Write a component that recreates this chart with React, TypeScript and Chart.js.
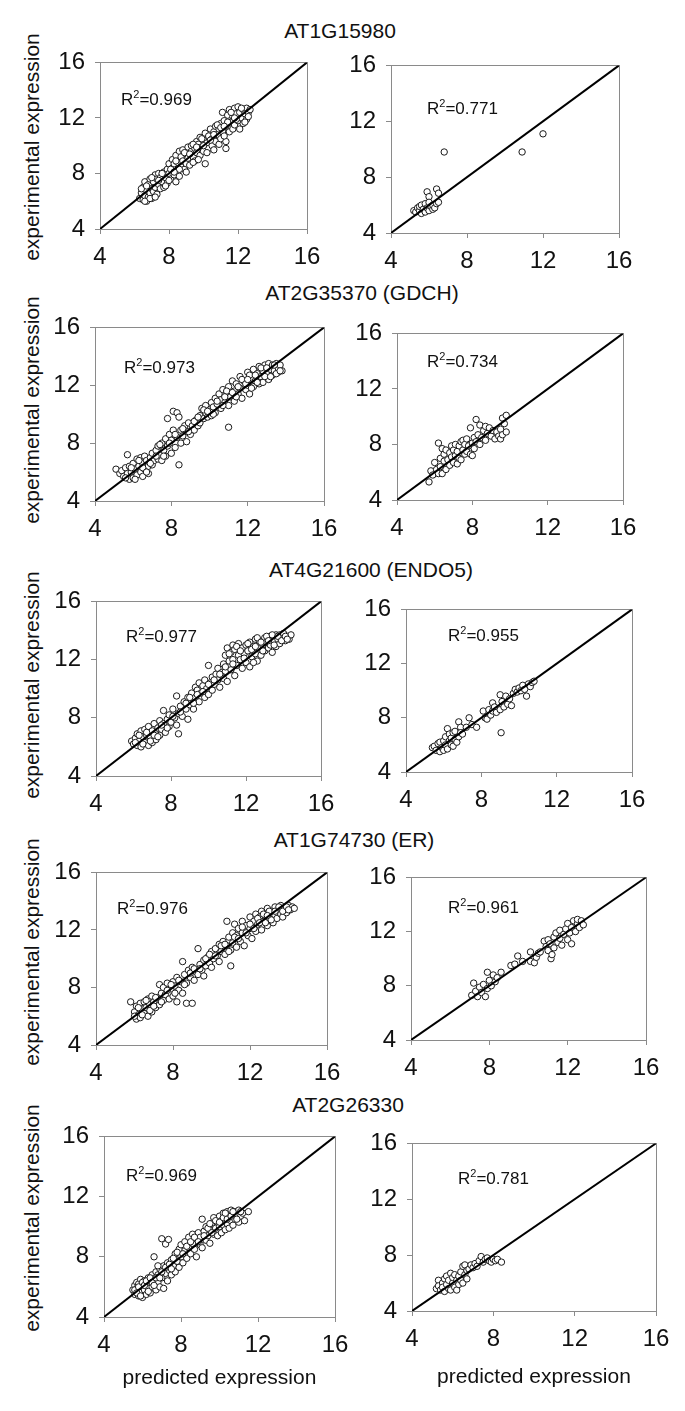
import React, { useEffect, useRef } from "react";
import { Chart, registerables } from "chart.js";

Chart.register(...registerables);

const FONT = "'Liberation Sans', Arial, Helvetica, sans-serif";

// ---------- data ----------
const axisTicks = [4, 8, 12, 16];
const geneTitles = [
  "AT1G15980",
  "AT2G35370 (GDCH)",
  "AT4G21600 (ENDO5)",
  "AT1G74730 (ER)",
  "AT2G26330",
];
const r2Values = ["0.969", "0.771", "0.973", "0.734", "0.977", "0.955", "0.976", "0.961", "0.969", "0.781"];
const yAxisTitle = "experimental expression";
const xAxisTitle = "predicted expression";
const diagonal = [4, 16];

type Pt = [number, number];

const pts1L: Pt[] = [
  [6.3,6.2],[6.4,6.6],[6.5,6.1],[6.5,7.0],[6.6,6.4],[6.6,7.4],[6.7,6.0],[6.7,6.8],[6.8,6.3],[6.8,7.2],[6.9,6.6],[6.9,7.6],[7.0,6.9],[7.0,6.2],[7.1,7.4],[7.1,6.7],[7.2,7.9],[7.2,7.0],[7.3,6.5],[7.3,7.6],[7.4,7.2],[7.4,8.0],
  [7.5,6.9],[7.5,7.7],[7.6,7.4],[7.7,8.1],[7.7,7.0],[7.8,7.7],[7.9,8.3],[7.9,7.3],[8.0,8.0],[8.0,8.7],[8.1,7.6],[8.2,8.4],[8.2,9.0],[8.3,7.9],[8.3,8.7],[8.4,7.4],[8.4,9.3],[8.5,8.1],[8.5,8.8],[8.6,9.6],[8.6,7.8],[8.7,8.5],[8.7,9.2],[8.8,8.9],[8.8,9.7],[8.9,8.3],[9.0,9.4],[9.0,8.7],[9.1,9.9],[9.1,9.1],
  [9.2,8.6],[9.3,9.6],[9.3,10.0],[9.4,9.2],[9.5,9.8],[9.5,8.9],[9.6,10.3],[9.6,9.5],[9.7,10.1],[9.8,9.3],[9.8,10.6],[9.9,9.9],[10.0,10.4],[10.0,9.6],[10.1,10.9],[10.1,8.7],[10.2,10.2],[10.3,10.7],[10.3,9.8],[10.4,11.2],[10.5,10.5],[10.5,10.0],[10.6,11.0],[10.7,10.3],[10.7,11.4],[10.8,10.8],[10.9,10.1],[10.9,11.2],[11.0,11.6],[11.0,10.5],
  [11.1,12.4],[11.1,11.0],[11.2,11.8],[11.3,10.3],[11.3,11.4],[11.4,12.2],[11.3,9.8],[11.5,11.0],[11.5,12.6],[11.6,11.7],[11.7,12.1],[11.7,11.2],[11.8,12.7],[11.8,11.5],[11.9,12.3],[12.0,11.8],[12.0,12.8],[12.1,11.2],[12.1,12.4],[12.2,12.0],[12.3,12.6],[12.3,11.6],[12.4,12.3],[12.5,12.7],[12.5,11.9],[12.6,12.4],[12.7,12.6],
  [6.4,6.9],[6.6,6.0],[6.9,6.2],[7.0,7.7],[7.2,6.3],[7.6,8.0],[7.8,7.1],[8.0,7.5],[8.1,8.3],[8.4,8.9],[8.6,8.3],[8.9,9.5],[9.0,8.1],[9.2,9.4],[9.4,10.1],[9.4,8.8],[9.7,9.0],[9.9,10.5],[10.2,9.5],[10.4,10.4],[10.6,9.7],[10.8,11.5],[11.0,11.3],[11.2,10.7],[11.4,11.7],[11.6,12.4],[11.9,11.9],[12.2,12.7],[12.4,11.7],[12.6,12.1],[11.8,12.0],[10.6,10.8],[9.6,9.9],[8.3,8.1],[7.4,7.5],[6.7,7.1],[10.0,10.0],[11.2,11.4],
];

const pts1R: Pt[] = [
  [5.2,5.6],[5.3,5.5],[5.4,5.8],[5.5,5.6],[5.5,5.9],[5.6,5.4],[5.6,6.0],[5.7,5.7],[5.8,5.5],[5.8,6.1],[5.9,5.8],[5.9,6.95],[6.0,5.6],[6.0,6.6],[6.0,6.2],[6.1,5.9],[6.2,5.7],[6.2,6.0],[6.3,5.8],[6.4,7.15],[6.4,6.1],[6.5,6.85],[6.5,6.2],[6.8,9.8],[10.9,9.8],[12.0,11.1],
];

const pts2L: Pt[] = [
  [5.1,6.2],[5.3,5.9],[5.4,6.1],[5.5,5.7],[5.6,6.3],[5.7,7.2],[5.7,5.9],[5.8,5.5],[5.8,6.4],[5.9,6.0],[6.0,5.6],[6.0,6.6],[6.1,6.2],[6.2,5.8],[6.2,6.9],[6.3,6.4],[6.4,6.0],[6.4,7.0],[6.5,5.7],[6.5,6.6],[6.6,6.2],[6.6,7.1],[6.7,6.8],[6.8,5.9],[6.8,6.4],[6.9,7.0],[7.0,6.5],[7.0,7.3],
  [7.1,6.8],[7.2,7.5],[7.3,6.9],[7.3,7.8],[7.4,7.2],[7.5,6.8],[7.5,8.0],[7.6,7.5],[7.7,8.3],[7.7,7.1],[7.8,9.7],[7.8,7.8],[7.9,8.6],[8.0,7.3],[8.0,8.2],[8.1,10.2],[8.1,8.9],[8.2,7.7],[8.3,8.4],[8.3,10.1],[8.4,9.8],[8.4,6.5],[8.5,8.0],[8.5,8.9],[8.6,8.5],[8.7,9.2],[8.8,8.1],[8.8,8.8],[8.9,9.4],[9.0,8.6],
  [9.1,9.2],[9.2,8.9],[9.3,9.6],[9.4,9.2],[9.5,9.9],[9.5,9.4],[9.6,10.4],[9.7,9.7],[9.8,10.1],[9.8,10.6],[9.9,9.8],[10.0,10.3],[10.1,10.8],[10.1,9.9],[10.2,10.5],[10.3,11.1],[10.3,10.1],[10.4,10.7],[10.5,11.4],[10.6,10.4],[10.6,11.0],[10.7,11.7],[10.8,10.8],[10.9,11.3],[11.0,9.1],[11.0,11.9],[11.0,10.6],
  [11.1,11.2],[11.2,12.3],[11.3,11.6],[11.3,10.9],[11.4,12.1],[11.5,11.4],[11.6,12.6],[11.6,11.8],[11.7,11.1],[11.8,12.3],[11.9,11.7],[12.0,12.9],[12.0,12.0],[12.1,11.4],[12.2,12.5],[12.3,13.1],[12.3,11.9],[12.4,12.3],[12.5,12.8],[12.6,12.1],[12.6,13.3],[12.7,12.6],[12.8,13.0],[12.8,12.2],[12.9,13.4],[13.0,12.8],[13.1,13.5],[13.1,12.4],[13.2,13.1],[13.3,13.4],[13.3,12.7],[13.4,13.0],[13.5,13.5],[13.6,12.9],[13.6,13.2],[13.7,13.4],[13.8,13.0],
  [5.6,5.6],[5.9,6.3],[6.1,5.5],[6.3,6.8],[6.5,6.3],[6.7,6.0],[6.9,6.6],[7.2,7.1],[7.4,7.9],[7.6,7.1],[7.9,8.0],[8.2,8.6],[8.6,9.0],[8.9,8.8],[9.2,9.5],[9.4,9.8],[9.7,10.3],[9.9,10.2],[10.2,10.0],[10.4,10.9],[10.7,10.6],[10.9,11.6],[11.2,11.5],[11.4,11.2],[11.7,12.4],[11.9,12.1],[12.1,12.7],[12.2,11.8],[12.4,12.7],[12.5,12.2],[12.7,13.2],[12.9,12.6],[13.0,13.2],[13.2,12.6],[13.4,13.4],[13.5,12.8],[13.7,13.0],[12.0,12.4],[11.5,11.9],[10.8,11.2],
];

const pts2R: Pt[] = [
  [5.7,5.3],[5.8,6.1],[5.9,5.8],[6.0,6.7],[6.1,6.2],[6.2,8.1],[6.2,5.9],[6.3,7.0],[6.3,6.4],[6.4,7.7],[6.4,5.9],[6.5,6.8],[6.5,7.3],[6.6,6.2],[6.6,7.6],[6.7,6.9],[6.8,7.4],[6.8,6.5],[6.9,7.9],[6.9,7.1],[7.0,6.7],[7.0,7.6],[7.1,7.2],[7.1,8.0],[7.2,6.6],[7.2,7.5],[7.3,7.9],[7.3,7.0],[7.4,8.2],[7.4,6.9],[7.5,7.6],[7.5,8.3],[7.6,7.3],[7.6,8.0],[7.7,8.4],[7.7,7.5],[7.8,7.9],[7.9,9.2],[7.9,7.3],[8.0,7.2],[8.0,8.1],[8.1,8.5],[8.1,7.7],[8.2,9.8],[8.2,8.2],[8.3,8.7],[8.4,9.4],[8.4,8.0],[8.5,8.5],[8.6,9.0],[8.7,9.3],[8.7,8.3],[8.8,8.8],[8.9,9.2],[9.0,8.6],[9.1,9.0],[9.2,8.4],[9.3,8.9],[9.4,8.6],[9.5,8.4],[9.5,9.1],[9.6,9.9],[9.6,8.7],[9.7,9.5],[9.8,8.9],[9.8,10.1],
];

const pts3L: Pt[] = [
  [5.9,6.4],[6.0,6.2],[6.1,6.6],[6.2,6.1],[6.2,6.9],[6.3,6.4],[6.4,7.1],[6.4,6.0],[6.5,6.7],[6.6,6.3],[6.6,7.2],[6.7,6.8],[6.8,6.1],[6.8,7.4],[6.9,6.6],[7.0,7.1],[7.0,6.3],[7.1,7.6],[7.2,6.9],[7.2,6.5],[7.3,7.3],[7.4,7.8],[7.4,6.8],[7.5,7.2],[7.6,7.6],[7.6,8.5],[7.7,7.0],[7.8,7.9],[7.9,7.4],[7.9,8.2],[8.0,7.7],[8.1,8.6],[8.2,8.0],[8.3,9.5],[8.3,7.5],[8.4,6.9],[8.4,8.3],[8.5,8.8],[8.6,8.1],[8.7,9.1],[8.8,8.6],[8.9,7.9],[8.9,9.4],[9.0,8.9],[9.1,9.7],[9.1,9.2],[9.2,8.6],[9.3,10.1],[9.3,9.4],[9.4,9.9],[9.5,9.1],[9.5,10.4],[9.6,9.7],[9.7,10.2],[9.8,9.4],[9.8,10.6],[9.9,10.0],[10.0,11.6],[10.0,9.6],[10.1,10.4],[10.2,10.8],[10.2,9.9],[10.3,10.3],[10.4,11.0],[10.5,10.6],[10.5,11.4],[10.6,10.1],[10.7,11.1],[10.8,10.7],[10.8,11.7],[10.9,12.3],[10.9,11.2],[11.0,12.8],[11.0,10.5],[11.1,11.9],[11.2,12.5],[11.2,11.3],[11.3,13.0],[11.3,12.0],[11.4,10.9],[11.4,12.7],[11.5,11.6],[11.6,12.3],[11.6,13.1],[11.7,12.0],[11.8,11.4],[11.8,12.8],[11.9,12.4],[12.0,13.0],[12.0,11.8],[12.1,12.6],[12.2,13.2],[12.2,11.5],[12.3,12.2],[12.4,12.9],[12.5,12.4],[12.5,13.4],[12.6,11.9],[12.7,12.8],[12.7,13.3],[12.8,12.3],[12.9,13.0],[13.0,13.5],[13.0,12.6],[13.1,13.2],[13.2,12.8],[13.3,13.6],[13.3,13.0],[13.4,12.5],[13.5,13.3],[13.6,13.7],[13.6,12.9],[13.7,13.4],[13.8,13.7],[13.8,13.1],[13.9,13.5],[14.0,13.8],[14.1,13.3],[14.2,13.6],[14.3,13.4],[14.4,13.7],
  [6.1,6.3],[6.3,6.8],[6.5,6.2],[6.7,7.0],[6.9,6.4],[7.1,6.8],[7.3,6.7],[7.5,7.5],[7.8,7.3],[8.1,8.1],[8.5,8.4],[8.8,9.0],[9.0,9.4],[9.2,9.0],[9.4,9.6],[9.7,9.8],[10.0,10.3],[10.3,10.6],[10.6,11.0],[10.9,11.5],[11.1,12.4],[11.3,11.7],[11.5,12.9],[11.7,12.6],[11.9,12.1],[12.1,13.1],[12.3,12.7],[12.5,12.9],[12.6,13.5],[12.8,13.2],[12.9,12.6],[13.1,13.6],[13.2,13.3],[13.4,13.7],[13.5,13.0],[13.7,13.6],[13.9,13.3],[14.1,13.6],[14.2,13.4],[12.4,11.8],
];

const pts3R: Pt[] = [
  [5.4,5.8],[5.5,5.9],[5.6,5.6],[5.7,6.1],[5.8,5.5],[5.8,6.2],[5.9,5.8],[6.0,6.3],[6.0,5.6],[6.1,6.0],[6.1,6.6],[6.2,7.2],[6.2,5.7],[6.3,6.3],[6.3,6.8],[6.4,6.0],[6.4,6.5],[6.5,6.9],[6.5,5.9],[6.6,6.4],[6.6,7.0],[6.7,6.2],[6.8,7.7],[6.8,6.6],[6.9,7.3],[6.9,6.9],[7.0,6.8],[7.2,7.3],[7.35,8.0],[7.5,7.5],[7.75,7.3],[8.1,8.5],[8.2,8.0],[8.3,7.9],[8.4,8.6],[8.5,8.2],[8.6,9.1],[8.6,8.5],[8.7,8.8],[8.8,8.4],[9.0,9.7],[9.0,8.6],[9.05,6.9],[9.1,9.2],[9.2,8.8],[9.3,9.6],[9.4,9.0],[9.5,9.4],[9.6,8.9],[9.7,9.8],[9.8,10.1],[9.9,9.9],[10.0,10.2],[10.1,10.0],[10.2,10.4],[10.3,10.1],[10.4,9.6],[10.5,10.5],[10.6,10.3],[10.7,10.6],[10.8,10.7],
];

const pts4L: Pt[] = [
  [5.8,7.0],[6.0,6.3],[6.1,5.8],[6.1,6.7],[6.2,6.1],[6.3,6.9],[6.3,5.9],[6.4,6.5],[6.5,6.2],[6.5,7.0],[6.6,6.6],[6.7,6.0],[6.7,7.2],[6.8,6.8],[6.9,6.3],[6.9,7.4],[7.0,7.0],[7.1,6.6],[7.2,7.3],[7.3,6.8],[7.3,8.2],[7.4,7.6],[7.5,7.1],[7.5,8.0],[7.6,7.5],[7.7,8.3],[7.8,7.2],[7.9,7.9],[8.0,8.4],[8.0,7.4],[8.1,8.1],[8.2,7.0],[8.2,8.7],[8.3,7.8],[8.4,8.4],[8.5,9.8],[8.5,7.6],[8.6,8.9],[8.7,6.9],[8.7,8.3],[8.8,9.2],[8.9,8.7],[9.0,6.9],[9.0,9.4],[9.1,8.5],[9.2,9.1],[9.3,10.7],[9.3,8.9],[9.4,9.6],[9.5,9.2],[9.6,9.9],[9.6,8.8],[9.7,9.5],[9.8,10.1],[9.9,9.7],[10.0,10.5],[10.0,9.4],[10.1,10.0],[10.2,10.7],[10.3,10.2],[10.4,11.0],[10.4,9.8],[10.5,10.5],[10.6,11.2],[10.7,10.3],[10.8,12.6],[10.8,10.9],[10.9,11.5],[11.0,9.5],[11.0,10.6],[11.1,11.8],[11.1,11.1],[11.2,12.4],[11.3,10.8],[11.3,11.6],[11.4,12.1],[11.5,11.2],[11.6,12.6],[11.6,11.8],[11.7,10.9],[11.8,12.3],[11.9,11.6],[12.0,12.9],[12.0,12.1],[12.1,11.4],[12.2,12.6],[12.3,13.1],[12.3,11.9],[12.4,12.4],[12.5,12.9],[12.6,12.0],[12.6,13.3],[12.7,12.6],[12.8,13.0],[12.9,12.3],[12.9,13.5],[13.0,12.8],[13.1,13.3],[13.2,12.5],[13.3,13.0],[13.3,13.6],[13.4,12.8],[13.5,13.4],[13.6,13.1],[13.6,13.7],[13.7,12.9],[13.8,13.5],[13.9,13.2],[14.0,13.7],[14.1,13.4],[14.2,13.6],[14.3,13.5],
  [6.0,6.0],[6.2,6.6],[6.4,6.1],[6.6,7.1],[6.8,6.4],[7.0,6.7],[7.1,7.3],[7.4,7.0],[7.7,7.8],[7.9,8.2],[8.1,7.6],[8.3,8.5],[8.6,8.2],[8.9,9.0],[9.1,9.3],[9.4,9.3],[9.7,10.0],[9.9,10.3],[10.2,10.2],[10.5,10.9],[10.7,11.0],[10.9,10.5],[11.2,11.5],[11.4,11.4],[11.6,12.2],[11.8,11.8],[12.0,12.4],[12.2,12.1],[12.4,12.8],[12.5,12.5],[12.7,13.1],[12.8,12.5],[13.0,13.3],[13.1,12.7],[13.3,13.3],[13.5,13.6],[13.7,13.3],[13.9,13.6],[14.0,13.4],[12.9,13.0],
];

const pts4R: Pt[] = [
  [7.1,7.3],[7.2,8.2],[7.3,7.6],[7.4,7.2],[7.5,7.9],[7.6,7.5],[7.7,8.1],[7.8,7.2],[7.9,9.0],[7.9,7.8],[8.0,8.4],[8.1,8.0],[8.2,8.8],[8.3,8.3],[8.4,8.6],[8.6,9.0],[9.1,9.5],[9.3,9.6],[9.45,10.2],[9.7,9.8],[10.1,10.5],[10.1,9.8],[10.3,9.7],[10.4,10.1],[10.5,10.4],[10.6,10.5],[10.8,11.3],[10.9,10.9],[11.0,11.4],[11.0,10.6],[11.1,11.1],[11.15,10.0],[11.2,10.3],[11.3,11.6],[11.3,10.8],[11.4,11.9],[11.5,11.2],[11.6,12.1],[11.6,11.5],[11.7,11.0],[11.8,11.8],[11.9,12.2],[12.0,11.4],[12.0,12.6],[12.1,11.9],[12.2,12.3],[12.2,11.1],[12.3,12.8],[12.4,12.0],[12.5,12.6],[12.5,12.9],[12.6,12.3],[12.7,12.8],[12.8,12.5],
];

const pts5L: Pt[] = [
  [5.5,5.8],[5.6,6.1],[5.6,5.5],[5.7,6.3],[5.7,5.9],[5.8,5.4],[5.8,6.2],[5.9,5.7],[5.9,6.5],[6.0,6.0],[6.0,5.3],[6.1,6.4],[6.1,5.8],[6.2,6.1],[6.2,5.5],[6.3,6.6],[6.3,5.9],[6.4,6.3],[6.4,5.6],[6.5,6.8],[6.5,6.0],[6.6,8.0],[6.6,6.5],[6.7,5.8],[6.7,7.0],[6.8,6.3],[6.8,6.8],[6.9,7.2],[6.9,6.0],[7.0,9.2],[7.0,6.6],[7.1,5.9],[7.1,7.4],[7.2,8.85],[7.2,6.9],[7.3,7.6],[7.35,9.15],[7.3,6.4],[7.4,7.1],[7.5,7.8],[7.5,6.8],[7.6,7.4],[7.7,8.2],[7.7,7.0],[7.8,7.7],[7.9,8.5],[7.9,7.3],[8.0,8.0],[8.0,8.8],[8.1,7.6],[8.2,8.4],[8.2,9.0],[8.3,7.9],[8.4,8.6],[8.4,9.3],[8.5,8.2],[8.6,8.9],[8.6,9.5],[8.7,8.5],[8.8,9.2],[8.8,8.0],[8.9,9.6],[9.0,8.8],[9.0,9.3],[9.1,10.5],[9.1,8.6],[9.2,9.7],[9.3,9.1],[9.3,10.0],[9.4,9.4],[9.5,9.8],[9.5,8.9],[9.6,10.2],[9.7,9.5],[9.7,10.6],[9.8,9.9],[9.9,10.3],[9.9,9.4],[10.0,10.7],[10.0,10.0],[10.1,9.6],[10.1,10.4],[10.2,10.9],[10.2,10.1],[10.3,9.8],[10.3,10.6],[10.4,11.0],[10.4,10.2],[10.5,10.7],[10.5,9.9],[10.6,11.1],[10.6,10.4],[10.7,10.8],[10.7,10.1],[10.8,11.0],[10.8,10.5],[10.9,10.8],[11.0,11.1],[11.0,10.3],[11.1,10.7],[11.2,10.9],[11.3,10.4],[11.5,11.0],
  [5.6,5.8],[5.7,5.6],[5.8,6.0],[5.9,5.4],[6.0,6.3],[6.1,6.1],[6.2,6.4],[6.3,5.7],[6.4,6.6],[6.5,6.3],[6.6,6.1],[6.7,6.6],[6.9,6.6],[7.0,7.0],[7.2,7.3],[7.4,7.5],[7.6,7.9],[7.8,8.3],[8.1,8.2],[8.3,8.7],[8.5,9.0],[8.7,9.3],[8.9,9.0],[9.2,9.4],[9.4,9.9],[9.6,9.6],[9.8,10.4],[10.0,10.3],[10.2,10.6],[10.4,10.5],[10.6,10.7],[10.7,11.0],[10.9,10.5],[11.1,11.0],[10.3,10.9],[9.5,10.2],[7.5,7.2],[6.8,7.4],
];

const pts5R: Pt[] = [
  [5.2,5.6],[5.3,6.2],[5.3,5.8],[5.4,5.5],[5.5,6.0],[5.5,5.7],[5.6,6.3],[5.6,5.4],[5.7,5.9],[5.7,6.5],[5.8,5.6],[5.8,6.2],[5.9,6.7],[5.9,5.5],[6.0,6.0],[6.0,6.4],[6.1,5.7],[6.1,6.6],[6.2,6.2],[6.2,5.5],[6.3,6.5],[6.3,5.9],[6.4,6.8],[6.4,6.2],[6.5,7.2],[6.5,6.0],[6.6,6.6],[6.6,7.3],[6.7,6.3],[6.7,6.9],[6.8,7.0],[6.9,7.3],[7.0,7.1],[7.1,7.4],[7.2,7.2],[7.3,7.6],[7.4,7.9],[7.5,7.5],[7.6,7.7],[7.7,7.8],[7.8,7.6],[7.9,7.5],[8.0,7.7],[8.1,7.6],[8.2,7.7],[8.4,7.5],
];

const panelPoints: Pt[][] = [pts1L, pts1R, pts2L, pts2R, pts3L, pts3R, pts4L, pts4R, pts5L, pts5R];

// ---------- layout (pixel geometry) ----------
const panelBoxes = [
  { l: 100, t: 58, r: 307, b: 229 },
  { l: 391, t: 61, r: 619, b: 233 },
  { l: 95, t: 323, r: 324, b: 501 },
  { l: 397, t: 329, r: 623, b: 500 },
  { l: 96, t: 597, r: 321, b: 776 },
  { l: 406, t: 605, r: 632, b: 772 },
  { l: 96, t: 868, r: 327, b: 1045 },
  { l: 411, t: 873, r: 646, b: 1040 },
  { l: 104, t: 1132, r: 335, b: 1317 },
  { l: 412, t: 1139, r: 656, b: 1311 },
];
const r2Offsets = [[21, 43], [36, 49], [29, 46], [30, 34], [30, 41], [42, 32], [21, 42], [37, 36], [22, 45], [46, 41]];
const titleCenters = [[340, 30], [362, 292], [371, 569], [354, 839], [348, 1104]];
const yTitleCenters = [[32, 147], [32, 410], [32, 685], [32, 952], [32, 1218]];

const AXIS_GRAY = "#8a8a8a";
const INK = "#111111";

function alignPx(v: number) {
  return Math.round(v - 0.5) + 0.5;
}

function ScatterPanel({ idx }: { idx: number }) {
  const ref = useRef<HTMLCanvasElement | null>(null);
  const box = panelBoxes[idx];
  const col = idx % 2;
  const isBottom = idx >= 8;
  const canvasLeft = col === 0 ? 0 : 340;
  const padL = col === 0 ? 15 : 0;
  const padT = 20;
  const padR = 25;
  const padB = 0;
  const xH = isBottom ? (col === 0 ? 78 : 83) : 45;
  const yW = box.l - canvasLeft - padL;
  const w = box.r + padR - canvasLeft;
  const h = box.b - box.t + padT + xH + padB;

  useEffect(() => {
    const canvas = ref.current;
    if (!canvas) return;
    const [dx, dy] = r2Offsets[idx];
    const r2 = r2Values[idx];

    const framePlugin = {
      id: "frame" + idx,
      beforeDatasetsDraw(chart: any) {
        const { ctx, chartArea } = chart;
        ctx.save();
        ctx.strokeStyle = AXIS_GRAY;
        ctx.lineWidth = 1;
        const x0 = alignPx(chartArea.left), x1 = alignPx(chartArea.right);
        const y0 = alignPx(chartArea.top), y1 = alignPx(chartArea.bottom);
        ctx.strokeRect(x0, y0, x1 - x0, y1 - y0);
        ctx.restore();
      },
    };
    const r2Plugin = {
      id: "r2" + idx,
      afterDraw(chart: any) {
        const { ctx, chartArea } = chart;
        ctx.save();
        ctx.fillStyle = INK;
        ctx.textAlign = "left";
        ctx.textBaseline = "alphabetic";
        let x = chartArea.left + dx;
        const y = chartArea.top + dy;
        ctx.font = `17px ${FONT}`;
        ctx.fillText("R", x, y);
        x += ctx.measureText("R").width;
        ctx.font = `11px ${FONT}`;
        ctx.fillText("2", x, y - 7);
        x += ctx.measureText("2").width;
        ctx.font = `17px ${FONT}`;
        ctx.fillText("=" + r2, x, y);
        ctx.restore();
      },
    };

    const tickFont = { family: FONT, size: 24 };
    const chart = new Chart(canvas, {
      type: "scatter",
      data: {
        datasets: [
          {
            data: diagonal.map((v) => ({ x: v, y: v })),
            showLine: true,
            borderColor: "#000",
            borderWidth: 2,
            pointRadius: 0,
            fill: false,
          } as any,
          {
            data: panelPoints[idx].map(([x, y]) => ({ x, y })),
            pointRadius: 3.2,
            borderWidth: 1,
            borderColor: "#1a1a1a",
            backgroundColor: "#ffffff",
            pointStyle: "circle",
          },
        ],
      },
      options: {
        animation: false,
        responsive: false,
        devicePixelRatio: 1,
        events: [],
        layout: { padding: { left: padL, top: padT, right: padR, bottom: padB } },
        plugins: { legend: { display: false }, tooltip: { enabled: false } },
        scales: {
          x: {
            type: "linear",
            min: 4,
            max: 16,
            afterBuildTicks: (s: any) => {
              s.ticks = axisTicks.map((v) => ({ value: v }));
            },
            afterFit: (s: any) => {
              s.height = xH;
            },
            grid: { drawOnChartArea: false, drawTicks: true, tickLength: 5, color: AXIS_GRAY },
            border: { display: true, color: AXIS_GRAY, width: 1 },
            ticks: { font: tickFont, color: INK, padding: 9, maxRotation: 0, autoSkip: false },
            title: {
              display: isBottom,
              text: xAxisTitle,
              color: INK,
              font: { family: FONT, size: 21 },
              padding: { top: 4, bottom: 4 },
            },
          },
          y: {
            type: "linear",
            position: "left",
            min: 4,
            max: 16,
            afterBuildTicks: (s: any) => {
              s.ticks = axisTicks.map((v) => ({ value: v }));
            },
            afterFit: (s: any) => {
              s.width = yW;
            },
            grid: { drawOnChartArea: false, drawTicks: true, tickLength: 5, color: AXIS_GRAY },
            border: { display: true, color: AXIS_GRAY, width: 1 },
            ticks: { font: tickFont, color: INK, padding: 10, autoSkip: false },
            title: { display: false },
          },
        },
      },
      plugins: [framePlugin, r2Plugin],
    } as any);
    return () => chart.destroy();
  }, [idx]);

  return (
    <canvas
      ref={ref}
      width={w}
      height={h}
      style={{ position: "absolute", left: canvasLeft, top: box.t - padT, width: w, height: h }}
    />
  );
}

export default function App() {
  return (
    <div
      style={{
        position: "absolute",
        left: 0,
        top: 0,
        width: 685,
        height: 1411,
        background: "#ffffff",
        overflow: "hidden",
        fontFamily: FONT,
      }}
    >
      {geneTitles.map((t, i) => (
        <div
          key={t}
          style={{
            position: "absolute",
            left: titleCenters[i][0],
            top: titleCenters[i][1] - 10,
            transform: "translateX(-50%)",
            fontSize: 21,
            lineHeight: "21px",
            whiteSpace: "nowrap",
            color: INK,
          }}
        >
          {t}
        </div>
      ))}
      {yTitleCenters.map(([cx, cy], i) => (
        <div
          key={"yt" + i}
          style={{
            position: "absolute",
            left: cx,
            top: cy,
            transform: "translate(-50%, -50%) rotate(-90deg)",
            fontSize: 21,
            lineHeight: "24px",
            whiteSpace: "nowrap",
            color: INK,
          }}
        >
          {yAxisTitle}
        </div>
      ))}
      {panelBoxes.map((_, i) => (
        <ScatterPanel key={i} idx={i} />
      ))}
    </div>
  );
}
